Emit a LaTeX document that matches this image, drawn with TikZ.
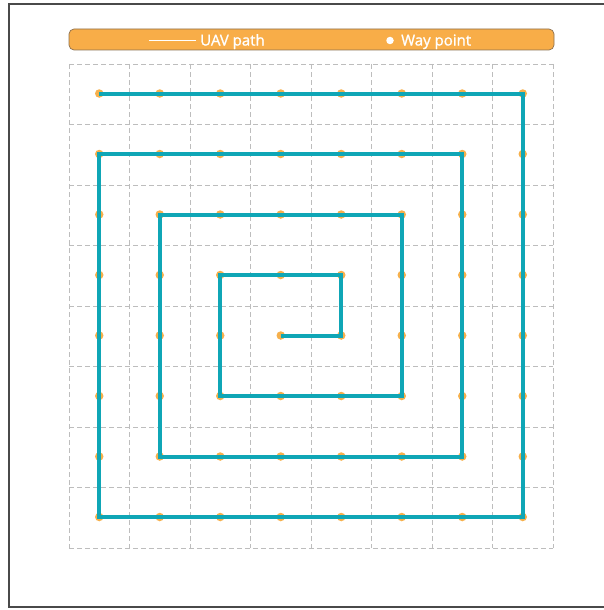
\documentclass[tikz,border=0pt]{standalone}
\usepackage{fontspec}
\setmainfont{Open Sans}
\newfontfamily\legendfont{Open Sans}[FakeBold=1.2]
\definecolor{pathteal}{HTML}{0FA6B6}
\definecolor{wayorange}{HTML}{F6B04C}
\definecolor{legendfill}{HTML}{F8AD48}
\definecolor{legendedge}{HTML}{8C7050}
\definecolor{gridgray}{HTML}{BDBDBD}
\definecolor{framegray}{HTML}{4A4A4A}
\tikzset{
  gridline/.style={draw=gridgray, line width=0.9pt, dash pattern=on 5pt off 3pt},
  uavpath/.style={draw=pathteal, line width=4pt, line join=miter},
  waydot/.style={circle, fill=wayorange, inner sep=0pt, minimum size=8.5pt},
  legendbox/.style={draw=legendedge, fill=legendfill, line width=0.7pt, rounded corners=5pt},
  legendtext/.style={text=white, font=\legendfont\fontsize{15}{16}\selectfont, inner sep=0pt, anchor=base west},
  frameline/.style={draw=framegray, line width=2pt}
}
\begin{document}
\begin{tikzpicture}[x=1pt,y=-1pt]
\useasboundingbox (0,0) rectangle (604,610);
% frame
\draw[frameline] (604,4) -- (9,4) -- (9,607) -- (604,607);
% legend
\draw[legendbox] (69,29) rectangle (554,50);
\coordinate (ls) at (149,40.5);
\coordinate (le) at (196,40.5);
\draw[white, line width=1.7pt] (ls) -- (le);
\node[legendtext] (lp) at (200,45.5) {UAV path};
\node[circle, fill=white, inner sep=0pt, minimum size=7.5pt] (ld) at (390,40.5) {};
\node[legendtext] (lw) at (401,45.5) {Way point};
% grid
\foreach \k in {0,...,8} {
  \draw[gridline] ({69+60.5*\k},64) -- ({69+60.5*\k},548);
  \draw[gridline] (69,{64+60.5*\k}) -- (553,{64+60.5*\k});
}
% waypoint coordinates
\foreach \i in {0,...,7} {
  \foreach \j in {0,...,7} {
    \coordinate (p-\i-\j) at ({99.25+60.5*\i},{93.5+60.5*\j});
  }
}
% waypoints
\foreach \i in {0,...,7} {
  \foreach \j in {0,...,7} {
    \node[waydot] (w-\i-\j) at (p-\i-\j) {};
  }
}
% UAV path (spiral)
\draw[uavpath] (p-3-4) -- (p-4-4) -- (p-4-3) -- (p-2-3) -- (p-2-5) -- (p-5-5)
  -- (p-5-2) -- (p-1-2) -- (p-1-6) -- (p-6-6) -- (p-6-1) -- (p-0-1)
  -- (p-0-7) -- (p-7-7) -- (p-7-0) -- (p-0-0);
\end{tikzpicture}
\end{document}
